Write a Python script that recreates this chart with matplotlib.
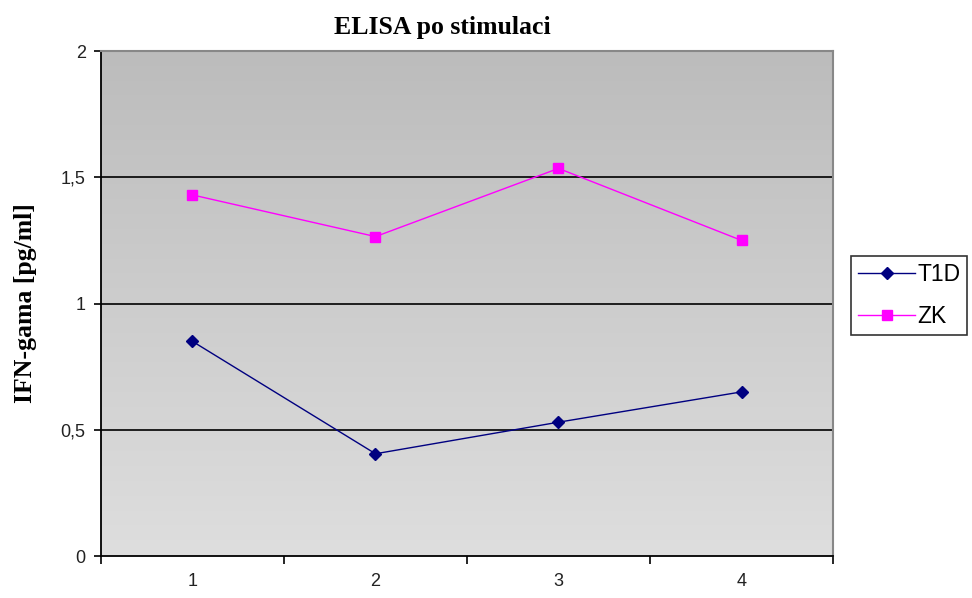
import numpy as np
import matplotlib
matplotlib.use("Agg")
import matplotlib.pyplot as plt
from matplotlib.colors import LinearSegmentedColormap

# Measurements per sample
samples = [1, 2, 3, 4]
t1d = [0.85, 0.405, 0.53, 0.65]
zk = [1.43, 1.265, 1.535, 1.25]
y_ticks = [0, 0.5, 1, 1.5, 2]
y_tick_labels = ["0", "0,5", "1", "1,5", "2"]

fig = plt.figure(figsize=(9.72, 5.98), dpi=100)
ax = fig.add_axes([0.1039, 0.0702, 0.857 - 0.1039, 0.9147 - 0.0702])

# gray gradient background, darker at the top
cmap = LinearSegmentedColormap.from_list("bg", ["#dedede", "#bcbcbc"])
grad = np.linspace(0, 1, 256).reshape(-1, 1)
ax.imshow(grad, cmap=cmap, aspect="auto", origin="lower",
          extent=[0, 1, 0, 1], transform=ax.transAxes, zorder=0)

for y in y_ticks[1:-1]:
    ax.axhline(y, color="black", lw=1.2, zorder=1)

ax.plot(samples, t1d, color="#000080", lw=1.0, marker="D", ms=6,
        label="T1D", zorder=3)
ax.plot(samples, zk, color="#ff00ff", lw=1.0, marker="s", ms=7,
        label="ZK", zorder=3)

ax.set_xlim(0.5, 4.5)
ax.set_ylim(0, 2)
ax.set_yticks(y_ticks)
ax.set_yticklabels(y_tick_labels)
ax.set_xticks(samples)
ax.set_xticks([0.5, 1.5, 2.5, 3.5, 4.5], minor=True)
ax.tick_params(axis="x", which="major", length=0, pad=12)
ax.tick_params(axis="x", which="minor", length=6, width=1.2, direction="out")
ax.tick_params(axis="y", length=5, width=1.2, direction="out", pad=6)
for lab in ax.get_xticklabels() + ax.get_yticklabels():
    lab.set_fontfamily("Liberation Sans")
    lab.set_fontsize(13)
    lab.set_color("#222222")

ax.spines["left"].set_linewidth(1.3)
ax.spines["bottom"].set_linewidth(1.3)
ax.spines["top"].set_color("#888888")
ax.spines["right"].set_color("#888888")
ax.spines["top"].set_linewidth(1.5)
ax.spines["right"].set_linewidth(1.5)

ax.set_title("ELISA po stimulaci", fontfamily="Liberation Serif",
             fontweight="bold", fontsize=18.5, pad=12, x=0.466)
ax.set_ylabel("IFN-gama [pg/ml]", fontfamily="Liberation Serif",
              fontweight="bold", fontsize=18.5, labelpad=17)

leg = ax.legend(loc="center left", bbox_to_anchor=(1.0246, 0.516),
                frameon=True, fancybox=False, borderpad=0.3,
                handlelength=2.5, handletextpad=0.1, labelspacing=0.85,
                borderaxespad=0,
                prop={"family": "Liberation Sans", "size": 16.5})
leg.get_frame().set_edgecolor("black")
leg.get_frame().set_linewidth(1.2)

fig.savefig("out.png", dpi=100)
